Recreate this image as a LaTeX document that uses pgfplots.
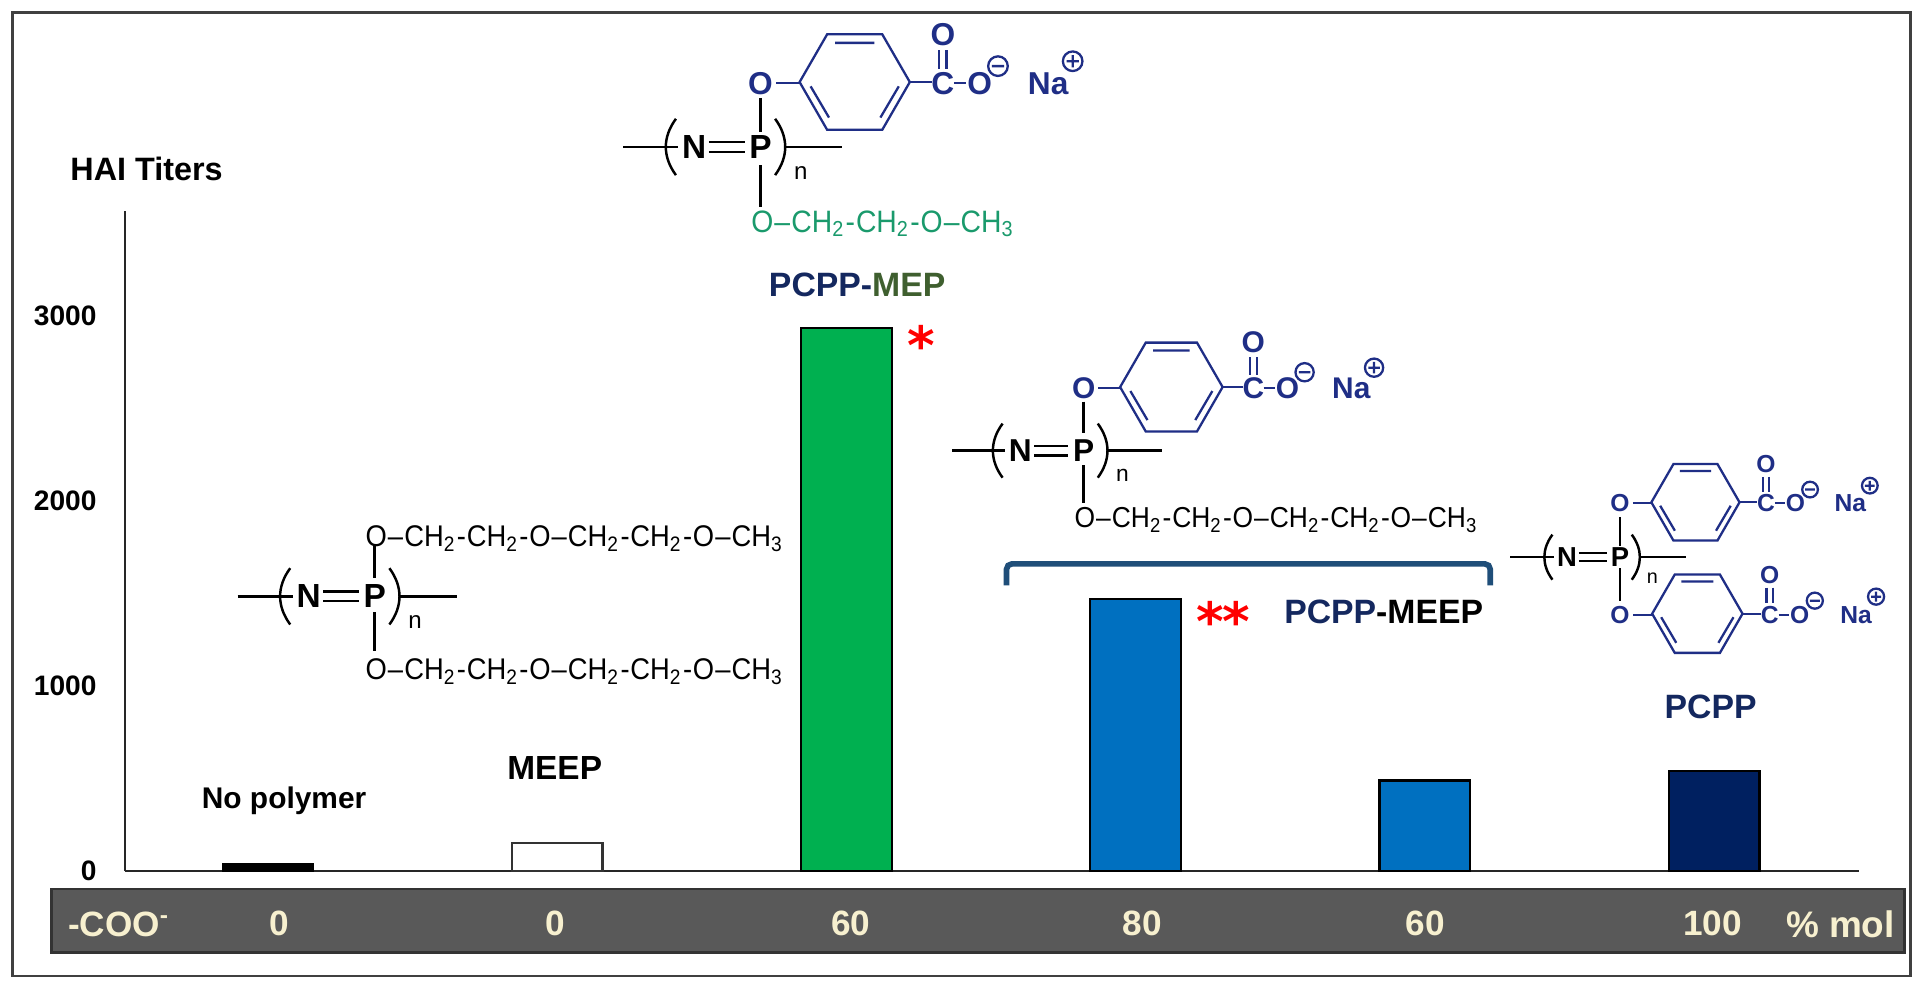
\documentclass[border=0pt]{standalone}
\usepackage{fontspec}
\setmainfont{Liberation Sans}
\newfontfamily\starfont{DejaVu Sans}
\usepackage{pgfplots}
\pgfplotsset{compat=1.18}

\definecolor{chemblue}{HTML}{1F2E86}
\definecolor{chemgreen}{HTML}{1A9A6C}
\definecolor{pcppnavy}{HTML}{14285F}
\definecolor{mepgreen}{HTML}{3F5F2F}
\definecolor{barband}{HTML}{595959}
\definecolor{cream}{HTML}{F7F0CF}
\definecolor{barblue}{HTML}{0070C0}
\definecolor{barnavy}{HTML}{002060}
\definecolor{bargreen}{HTML}{00B050}
\definecolor{bracket}{HTML}{1F4E79}

% font size shortcut
\newcommand\fs[1]{\fontsize{#1pt}{#1pt}\selectfont}
% chain pieces
\newcommand\dd{\kern.04em\textendash\kern.04em}
\newcommand\hh{\kern.03em-\kern.03em}
\newcommand\CHtwo{CH\textsubscript{2}}
\newcommand\CHthree{CH\textsubscript{3}}
\newcommand\narrow[1]{\scalebox{.915}[1]{#1}}
\newcommand\longchain{\narrow{O\dd\CHtwo\hh\CHtwo\hh O\dd\CHtwo\hh\CHtwo\hh O\dd\CHthree}}
\newcommand\shortchain{\narrow{O\dd\CHtwo\hh\CHtwo\hh O\dd\CHthree}}

% backbone: x y scale fontsize, origin on the P
\newcommand\backbone[4]{%
\begin{scope}[shift={(#1,#2)},scale=#3,line width=.7pt,black]
  \draw (-112,0)--(-67,0);
  \draw (20,0)--(67,0);
  \draw (-42,-4)--(-13,-4) (-42,4)--(-13,4);
  \draw (-69,-23) .. controls (-80,-8) and (-80,8) .. (-69,23);
  \draw (12,-23) .. controls (23,-8) and (23,8) .. (12,23);
  \node[font=\fs{#4}\bfseries,inner sep=0] at (-54,0) {N};
  \node[font=\fs{#4}\bfseries,inner sep=0] at (0,0) {P};
  \node[font=\fs{#4},inner sep=0] at (33,21) {\scalebox{.72}{n}};
\end{scope}}

% carboxylate ring: x y scale fontsize, origin on the first O
\newcommand\ringgroup[4]{%
\begin{scope}[shift={(#1,#2)},scale=#3,line width=.65pt,chemblue,
    every node/.style={font=\fs{#4}\bfseries,inner sep=0,text=chemblue}]
  \node at (0,0) {O};
  \draw (13,0)--(32,0);
  \draw (32,-1)--(54.5,-40)--(99.5,-40)--(122,-1)--(99.5,38)--(54.5,38)--cycle;
  \draw (61,-33)--(93,-33) (41,2.5)--(56,28) (113,2.5)--(98,28);
  \draw (122,-1)--(140,-1);
  \node at (149,0) {C};
  \node at (149,-40) {O};
  \draw (146,-27)--(146,-12) (152,-27)--(152,-12);
  \draw (158,0)--(168,0);
  \node at (179,0) {O};
  \draw (194,-14) circle (8) (189,-14)--(199,-14);
  \node at (235,0) {Na};
  \draw (255,-18) circle (8) (250,-18)--(260,-18) (255,-23)--(255,-13);
\end{scope}}

\begin{document}
\begin{tikzpicture}
% 1 unit = 1 px of the shrunk reference
\begin{scope}[x=0.012245cm,y=-0.012245cm]
  \fill[white] (0,0) rectangle (1568,805);
  \draw[line width=.8pt,black!75] (10,10) rectangle (1560,797);
  \draw[line width=.8pt,black!80,fill=barband] (42,726) rectangle (1555,778);
\end{scope}

\begin{axis}[
    at={(1.249cm,-8.706cm)}, anchor=south west,
    scale only axis,
    width=17.327cm, height=6.6cm,
    xmin=-0.494, xmax=5.5,
    ymin=0, ymax=3570,
    axis x line=bottom, axis y line=left,
    axis line style={-,line width=.7pt,black!85},
    tick style={draw=none},
    major tick length=0pt,
    ybar, bar width=0.906cm, bar shift=0pt,
    xtick={0.04,0.994,2.015,3.023,4.002,4.994},
    xticklabels={0,0,60,80,60,100},
    x tick label style={font=\fs{10}\bfseries,text=cream,anchor=center,yshift=-0.527cm},
    ytick={0,1000,2000,3000},
    y tick label style={font=\fs{8}\bfseries,anchor=east,xshift=-0.16cm,
      /pgf/number format/assume math mode=true,/pgf/number format/1000 sep={}},
    clip=false,
]
\addplot[fill=black,draw=black,line width=.5pt] coordinates {(0,40)};
\addplot[fill=white,draw=black!80,line width=.6pt] coordinates {(1,152)};
\addplot[fill=bargreen,draw=black,line width=.6pt] coordinates {(2,2934)};
\addplot[fill=barblue,draw=black,line width=.6pt] coordinates {(3,1470)};
\addplot[fill=barblue,draw=black,line width=.6pt] coordinates {(4,490)};
\addplot[fill=barnavy,draw=black,line width=.6pt] coordinates {(5,543)};
\end{axis}

\begin{scope}[x=0.012245cm,y=-0.012245cm]
  % titles and labels
  \node[font=\fs{9.2}\bfseries,inner sep=0,anchor=west] at (57,138) {HAI Titers};
  \node[font=\fs{8.5}\bfseries,inner sep=0] at (232,654) {No polymer};
  \node[font=\fs{9.5}\bfseries,inner sep=0] at (453,627) {MEEP};
  \node[font=\fs{9.6}\bfseries,inner sep=0] at (700,233) {\textcolor{pcppnavy}{PCPP-}\textcolor{mepgreen}{MEP}};
  \node[font=\fs{9.6}\bfseries,inner sep=0] at (1130,500) {\textcolor{pcppnavy}{PCPP}-MEEP};
  \node[font=\fs{9.6}\bfseries,inner sep=0,text=pcppnavy] at (1397,577) {PCPP};
  % band text
  \node[font=\fs{10}\bfseries,inner sep=0,text=cream,anchor=west] at (55,755) {-COO\textsuperscript{-}};
  \node[font=\fs{10.5}\bfseries,inner sep=0,text=cream,anchor=east] at (1548,755) {\% mol};
  % stars
  \node[font=\starfont\fs{15}\bfseries,inner sep=0,text=red] at (752,282) {*};
  \node[font=\starfont\fs{15}\bfseries,inner sep=0,text=red] at (988,507) {*};
  \node[font=\starfont\fs{15}\bfseries,inner sep=0,text=red] at (1010,507) {*};
  % bracket
  \draw[bracket,line width=1.6pt,rounded corners=1.5pt] (822,478)--(822,460.5)--(1217,460.5)--(1217,478);

  % MEEP
  \backbone{306}{487}{1}{9.5}
  \draw[line width=.7pt] (306,445)--(306,472) (306,500)--(306,532);
  \node[font=\fs{8.5},inner sep=0,anchor=base west] at (298,446) {\longchain};
  \node[font=\fs{8.5},inner sep=0,anchor=base west] at (298,555) {\longchain};

  % PCPP-MEP
  \backbone{621}{120}{1}{9.5}
  \ringgroup{621}{68}{1}{9}
  \draw[line width=.7pt] (621,80)--(621,108) (621,135)--(621,169);
  \node[font=\fs{8.8},inner sep=0,anchor=base west,text=chemgreen] at (613,190) {\shortchain};

  % PCPP-MEEP
  \backbone{885}{368}{.96}{9}
  \ringgroup{885}{317}{.93}{8.5}
  \draw[line width=.7pt] (885,328)--(885,354) (885,380)--(885,411);
  \node[font=\fs{8.2},inner sep=0,anchor=base west] at (877,431) {\longchain};

  % PCPP
  \backbone{1323}{455}{.8}{7.8}
  \ringgroup{1323}{411}{.8}{7}
  \ringgroup{1323}{502}{.82}{7}
  \draw[line width=.7pt] (1323,422)--(1323,446) (1323,464)--(1323,491);
\end{scope}
\end{tikzpicture}
\end{document}
